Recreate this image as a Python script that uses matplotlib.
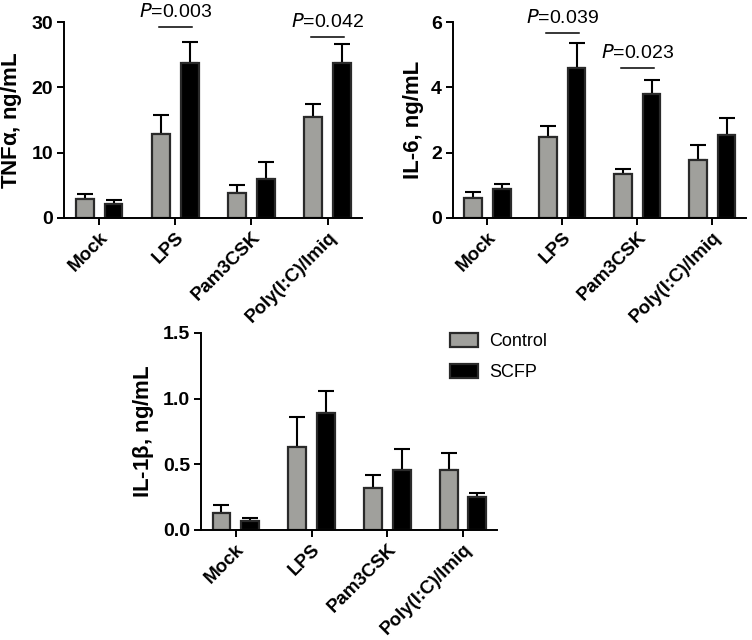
"""Cytokine release bar charts: Control vs SCFP."""

import matplotlib

matplotlib.use("Agg")

import matplotlib.pyplot as plt
import numpy as np
from matplotlib.patches import Patch

plt.rcParams["font.family"] = ["Liberation Sans", "DejaVu Sans"]

CATEGORIES = ["Mock", "LPS", "Pam3CSK", "Poly(I:C)/Imiq"]
SERIES = ["Control", "SCFP"]

TNF_CONTROL = [2.9, 12.8, 3.8, 15.5]
TNF_CONTROL_ERR = [0.8, 3.0, 1.2, 2.0]
TNF_SCFP = [2.2, 23.8, 6.0, 23.8]
TNF_SCFP_ERR = [0.6, 3.2, 2.5, 2.8]

IL6_CONTROL = [0.61, 2.47, 1.34, 1.78]
IL6_CONTROL_ERR = [0.20, 0.36, 0.16, 0.45]
IL6_SCFP = [0.90, 4.58, 3.80, 2.54]
IL6_SCFP_ERR = [0.15, 0.78, 0.44, 0.51]

IL1B_CONTROL = [0.13, 0.63, 0.32, 0.46]
IL1B_CONTROL_ERR = [0.06, 0.23, 0.10, 0.13]
IL1B_SCFP = [0.07, 0.89, 0.46, 0.25]
IL1B_SCFP_ERR = [0.02, 0.17, 0.16, 0.03]

# (category index, bracket height, label)
TNF_PVALUES = [(1, 29.3, "0.003"), (3, 27.8, "0.042")]
IL6_PVALUES = [(1, 5.67, "0.039"), (2, 4.61, "0.023")]

GREY = "#a0a09c"
EDGE = "#2a2a2a"
OFFSET = 0.19
WIDTH = 0.235


def draw_panel(ax, control, control_err, scfp, scfp_err, ymax, yticks, ylabel, pvalues=()):
    x = np.arange(len(CATEGORIES))
    for xs, vals, errs, colour in (
        (x - OFFSET, control, control_err, GREY),
        (x + OFFSET, scfp, scfp_err, "black"),
    ):
        ax.bar(xs, vals, width=WIDTH, color=colour, edgecolor=EDGE, linewidth=1.6, zorder=2)
        ax.errorbar(
            xs, vals, yerr=[np.zeros(len(vals)), errs], fmt="none",
            ecolor="black", elinewidth=1.5, capsize=6, capthick=1.5, zorder=1,
        )

    for idx, height, label in pvalues:
        ax.plot([idx - OFFSET - 0.03, idx + OFFSET + 0.03], [height, height],
                color="black", linewidth=1.1, clip_on=False)
        ax.text(idx, height + ymax * 0.03, f"$\\it{{P}}$=" + label, ha="center", va="bottom",
                fontsize=14, clip_on=False)

    ax.set_xlim(-0.46, 3.45)
    ax.set_ylim(0, ymax)
    ax.set_yticks(yticks)
    ax.set_xticks(x)
    ax.set_xticklabels(CATEGORIES, rotation=45, ha="right", rotation_mode="anchor")
    ax.set_ylabel(ylabel, fontsize=16, fontweight="bold", labelpad=5)
    for spine in ("top", "right"):
        ax.spines[spine].set_visible(False)
    for spine in ("left", "bottom"):
        ax.spines[spine].set_linewidth(1.4)
    ax.tick_params(axis="both", length=5, width=1.4, labelsize=14, pad=3)
    ax.tick_params(axis="x", labelsize=13.5)
    for lbl in ax.get_xticklabels() + ax.get_yticklabels():
        lbl.set_fontweight("bold")


def main() -> None:
    fig = plt.figure(figsize=(7.52, 6.4), dpi=100)
    ax1 = fig.add_axes([0.0851, 0.6594, 0.3963, 0.306])
    ax2 = fig.add_axes([0.6024, 0.6594, 0.3896, 0.306])
    ax3 = fig.add_axes([0.2673, 0.1719, 0.3937, 0.3078])

    draw_panel(ax1, TNF_CONTROL, TNF_CONTROL_ERR, TNF_SCFP, TNF_SCFP_ERR,
               30, [0, 10, 20, 30], r"TNF$\mathregular{\alpha}$, ng/mL", TNF_PVALUES)
    draw_panel(ax2, IL6_CONTROL, IL6_CONTROL_ERR, IL6_SCFP, IL6_SCFP_ERR,
               6, [0, 2, 4, 6], "IL-6, ng/mL", IL6_PVALUES)
    draw_panel(ax3, IL1B_CONTROL, IL1B_CONTROL_ERR, IL1B_SCFP, IL1B_SCFP_ERR,
               1.5, [0.0, 0.5, 1.0, 1.5], r"IL-1$\mathregular{\beta}$, ng/mL")
    ax3.set_yticklabels(["0.0", "0.5", "1.0", "1.5"])
    for lbl in ax3.get_yticklabels():
        lbl.set_fontweight("bold")

    handles = [
        Patch(facecolor=GREY, edgecolor=EDGE, linewidth=1.6, label=SERIES[0]),
        Patch(facecolor="black", edgecolor=EDGE, linewidth=1.6, label=SERIES[1]),
    ]
    fig.legend(handles=handles, loc="upper left", bbox_to_anchor=(0.577, 0.505),
               frameon=False, fontsize=13, handlelength=1.55, handleheight=0.8,
               handletextpad=0.6, labelspacing=0.75)

    fig.savefig("out.png", dpi=100)
    plt.close(fig)


if __name__ == "__main__":
    main()
